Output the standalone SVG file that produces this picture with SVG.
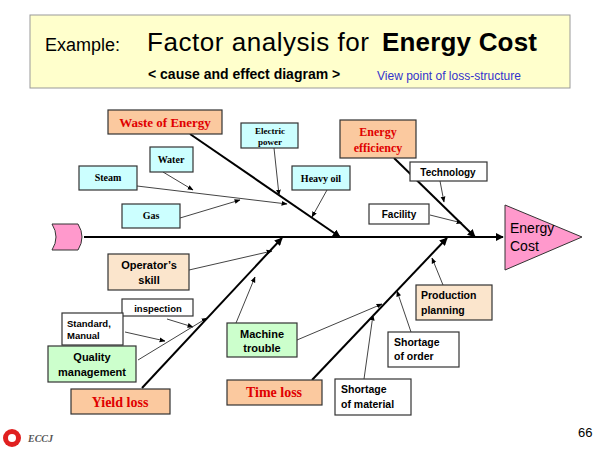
<svg xmlns="http://www.w3.org/2000/svg" width="600" height="450" viewBox="0 0 600 450">
<defs>
<marker id="a" viewBox="0 0 10 10" refX="9" refY="5" markerWidth="6" markerHeight="6" orient="auto"><path d="M0,1L10,5L0,9z" fill="#000"/></marker>
<marker id="b" viewBox="0 0 10 10" refX="9" refY="5" markerWidth="4" markerHeight="4" orient="auto"><path d="M0,0L10,5L0,10z" fill="#000"/></marker>
</defs>
<style>
.bx{stroke:#333;stroke-width:1.2}
.cy{fill:#CCFFFF}.pe{fill:#FBC99F}.wh{fill:#fff}.gr{fill:#CCFFCC}.be{fill:#FBE5CC}
.sr{font-family:"Liberation Serif",serif;font-weight:bold;text-anchor:middle}
.ss{font-family:"Liberation Sans",sans-serif;font-weight:bold;text-anchor:middle}
.sl{font-family:"Liberation Sans",sans-serif;font-weight:bold;text-anchor:start}
.red{fill:#E00000}
.th{stroke:#000;stroke-width:2;fill:none}
.tn{stroke:#444;stroke-width:1;fill:none}
</style>
<rect width="600" height="450" fill="#fff"/>
<g id="header">
<rect x="30" y="15" width="540" height="73" fill="#FFFFCC" stroke="#999"/>
<text x="45" y="51" font-family="Liberation Sans,sans-serif" font-size="18">Example:</text>
<text x="147" y="51" font-family="Liberation Sans,sans-serif" font-size="26" textLength="222">Factor analysis for</text>
<text x="382" y="51" font-family="Liberation Sans,sans-serif" font-size="26" font-weight="bold" textLength="155">Energy Cost</text>
<text x="148" y="79" font-family="Liberation Sans,sans-serif" font-size="14" font-weight="bold">&lt; cause and effect diagram &gt;</text>
<text x="377" y="80" font-family="Liberation Sans,sans-serif" font-size="12" fill="#3333CC">View point of loss-structure</text>
</g>
<g id="connectors">
<line x1="84" y1="237" x2="503" y2="237" class="th" marker-end="url(#b)"/>
<line x1="190" y1="134" x2="340" y2="237" class="th" marker-end="url(#b)"/>
<line x1="394" y1="158" x2="475" y2="237" class="th" marker-end="url(#b)"/>
<line x1="142" y1="388" x2="282" y2="238" class="th" marker-end="url(#b)"/>
<line x1="312" y1="380" x2="447" y2="238" class="th" marker-end="url(#b)"/>
<line x1="274" y1="148" x2="279" y2="195" class="tn" marker-end="url(#a)"/>
<line x1="163" y1="172" x2="193" y2="190" class="tn" marker-end="url(#a)"/>
<line x1="137" y1="186" x2="287" y2="204" class="tn" marker-end="url(#a)"/>
<line x1="180" y1="218" x2="240" y2="200" class="tn" marker-end="url(#a)"/>
<line x1="327" y1="190" x2="312" y2="217" class="tn" marker-end="url(#a)"/>
<line x1="440" y1="181" x2="444" y2="202" class="tn" marker-end="url(#a)"/>
<line x1="430" y1="215" x2="462" y2="223" class="tn" marker-end="url(#a)"/>
<line x1="189" y1="270" x2="272" y2="251" class="tn" marker-end="url(#a)"/>
<line x1="167" y1="319" x2="193" y2="327" class="tn" marker-end="url(#a)"/>
<line x1="125" y1="332" x2="165" y2="341" class="tn" marker-end="url(#a)"/>
<line x1="138" y1="360" x2="207" y2="318" class="tn" marker-end="url(#a)"/>
<line x1="236" y1="323" x2="255" y2="277" class="tn" marker-end="url(#a)"/>
<line x1="297" y1="340" x2="382" y2="304" class="tn" marker-end="url(#a)"/>
<line x1="364" y1="379" x2="373" y2="315" class="tn" marker-end="url(#a)"/>
<line x1="411" y1="332" x2="397" y2="291" class="tn" marker-end="url(#a)"/>
<line x1="443" y1="285" x2="432" y2="258" class="tn" marker-end="url(#a)"/>
</g>
<g id="tail"><path d="M52,224H78Q86,237 78,250H52Q60,237 52,224z" fill="#FF99CC" stroke="#333"/></g>
<g id="head"><path d="M505,205L582,237L505,270z" fill="#FF99CC" stroke="#333"/>
<text x="510" y="233" font-family="Liberation Sans,sans-serif" font-size="14">Energy</text>
<text x="510" y="251" font-family="Liberation Sans,sans-serif" font-size="14">Cost</text></g>
<g id="waste"><rect x="108" y="110" width="114" height="24" class="bx pe"/><text x="165" y="127" class="sr red" font-size="13">Waste of Energy</text></g>
<g id="electric"><rect x="241" y="123" width="57" height="25" class="bx cy"/><text x="270" y="134" class="sr" font-size="9">Electric</text><text x="270" y="145" class="sr" font-size="9">power</text></g>
<g id="water"><rect x="150" y="147" width="43" height="25" class="bx cy"/><text x="171" y="163" class="sr" font-size="10">Water</text></g>
<g id="steam"><rect x="79" y="166" width="58" height="24" class="bx cy"/><text x="108" y="181" class="sr" font-size="10">Steam</text></g>
<g id="gas"><rect x="122" y="204" width="58" height="24" class="bx cy"/><text x="151" y="219" class="sr" font-size="10">Gas</text></g>
<g id="heavyoil"><rect x="292" y="166" width="58" height="24" class="bx cy"/><text x="321" y="182" class="sr" font-size="10">Heavy oil</text></g>
<g id="efficiency"><rect x="340" y="120" width="76" height="38" class="bx pe"/><text x="378" y="136" class="sr red" font-size="12">Energy</text><text x="378" y="152" class="sr red" font-size="12">efficiency</text></g>
<g id="technology"><rect x="410" y="162" width="77" height="19" class="bx wh"/><text x="448" y="176" class="ss" font-size="10" font-weight="normal">Technology</text></g>
<g id="facility"><rect x="369" y="204" width="60" height="20" class="bx wh"/><text x="399" y="218" class="ss" font-size="10">Facility</text></g>
<g id="operator"><rect x="108" y="254" width="81" height="36" class="bx be"/><text x="149" y="269" class="ss" font-size="11">Operator’s</text><text x="149" y="284" class="ss" font-size="11">skill</text></g>
<g id="inspection"><rect x="122" y="299" width="71" height="17" class="bx wh"/><text x="158" y="312" class="ss" font-size="9.5">inspection</text></g>
<g id="standard"><rect x="62" y="313" width="61" height="32" class="bx wh"/><text x="67" y="327" class="sl" font-size="9.5">Standard,</text><text x="67" y="339" class="sl" font-size="9.5">Manual</text></g>
<g id="quality"><rect x="48" y="346" width="88" height="36" class="bx gr"/><text x="92" y="361" class="ss" font-size="11">Quality</text><text x="92" y="376" class="ss" font-size="11">management</text></g>
<g id="yield"><rect x="71" y="389" width="99" height="25" class="bx pe"/><text x="120" y="407" class="sr red" font-size="14" font-weight="normal">Yield loss</text></g>
<g id="machine"><rect x="227" y="323" width="70" height="34" class="bx gr"/><text x="262" y="338" class="ss" font-size="11">Machine</text><text x="262" y="352" class="ss" font-size="11">trouble</text></g>
<g id="timeloss"><rect x="227" y="380" width="95" height="25" class="bx pe"/><text x="274" y="397" class="sr red" font-size="14" font-weight="normal">Time loss</text></g>
<g id="material"><rect x="335" y="379" width="76" height="36" class="bx wh"/><text x="341" y="393" class="sl" font-size="10.5">Shortage</text><text x="341" y="408" class="sl" font-size="10.5">of material</text></g>
<g id="order"><rect x="388" y="332" width="71" height="35" class="bx wh"/><text x="394" y="346" class="sl" font-size="10.5">Shortage</text><text x="394" y="360" class="sl" font-size="10.5">of order</text></g>
<g id="planning"><rect x="416" y="285" width="76" height="35" class="bx be"/><text x="421" y="299" class="sl" font-size="10.5">Production</text><text x="421" y="314" class="sl" font-size="10.5">planning</text></g>
<g id="footer">
<circle cx="12" cy="438" r="9" fill="#E02020"/><circle cx="12" cy="438" r="4" fill="#fff"/>
<text x="28" y="442" font-family="Liberation Serif,serif" font-style="italic" font-weight="bold" font-size="10" fill="#555">ECCJ</text>
<text x="578" y="437" font-family="Liberation Sans,sans-serif" font-size="13">66</text>
</g>
</svg>
